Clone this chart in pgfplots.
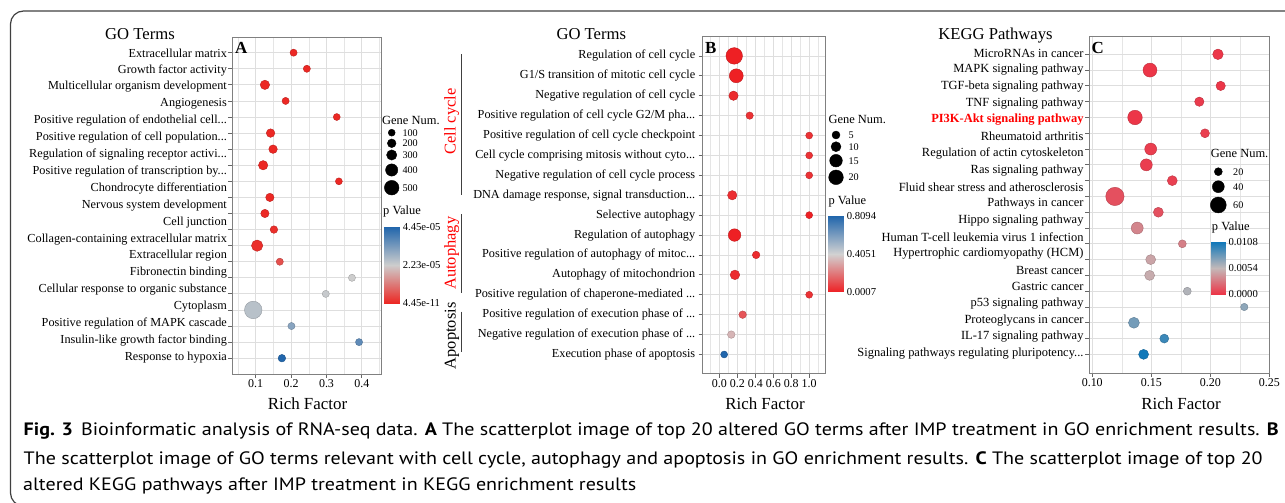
\documentclass[border=0pt]{standalone}
\usepackage{fontspec}
\setmainfont{Liberation Serif}
\newfontfamily\capfont[FakeStretch=1.118]{PT Sans}
\usepackage{pgfplots}
\pgfplotsset{compat=1.18}
\newcommand\fsz[1]{\fontsize{#1}{#1}\selectfont}
\newcommand\el{.\kern0pt.\kern0pt.}
\pgfplotsset{
 colormap={cmA}{rgb255=(236,40,36) rgb255=(205,205,205) rgb255=(33,102,172)},
 colormap={cmB}{rgb255=(238,32,36) rgb255=(210,210,210) rgb255=(33,102,172)},
 colormap={cmC}{rgb255=(236,54,72) rgb255=(195,185,185) rgb255=(16,120,185)},
 panel/.style={anchor=south west, scale only axis, tick align=outside,
   major tick length=4bp, minor tick length=0pt, xtick pos=bottom, ytick pos=left,
   axis line style={black!50, line width=0.9bp}, tick style={black!60, line width=0.8bp},
   xmajorgrids, xminorgrids, ymajorgrids,
   major grid style={black!13, line width=0.8bp}, minor grid style={black!10, line width=0.5bp},
   point meta min=0, point meta max=1,
   /pgf/number format/assume math mode=true,
   xticklabel style={font=\fsz{12}, yshift=1.5bp},
   yticklabel style={font=\fsz{12.3}}},
 dots/.style={scatter, only marks, mark=*, scatter src=explicit,
   visualization depends on={\thisrow{r}\as\rad},
   scatter/@pre marker code/.append style={/tikz/mark size=\rad}},
 cbar/.style={anchor=south west, scale only axis, xmin=0, xmax=1, ymin=0, ymax=1,
   point meta min=0, point meta max=1, axis line style={draw=none}, xtick=\empty,
   ytick={0,0.5,1}, yticklabel pos=right, ytick pos=both, tick align=inside,
   major tick length=3bp, tick style={white, line width=0.8bp},
   yticklabel style={font=\fsz{10.7}, xshift=0bp}},
}
\begin{document}
\begin{tikzpicture}
\path[use as bounding box] (0,0) rectangle (1285bp,503bp);
\draw[black!75, line width=1.2bp, rounded corners=13bp] (10.5bp,-3bp) rectangle (1310bp,492bp);

% ---------- Panel A ----------
\begin{axis}[panel, at={(232bp,129bp)}, width=149bp, height=337bp,
  xmin=0.033, xmax=0.454, ymin=0.018, ymax=20.976, colormap name=cmA,
  xtick={0.1,0.2,0.3,0.4}, minor xtick={0.05,0.15,0.25,0.35,0.45},
  ytick={1,...,20}, yticklabels={},
  extra y ticks={19.963,18.913,17.862,16.812,15.761,14.711,13.660,12.610,11.560,10.509,9.459,8.408,7.358,6.307,5.257,4.207,3.156,2.106,1.055},
  extra y tick labels={Extracellular matrix,Growth factor activity,Multicellular organism development,Angiogenesis,Positive regulation of endothelial cell\el,Positive regulation of cell population\el,Regulation of signaling receptor activi\el,Positive regulation of transcription by\el,Chondrocyte differentiation,Nervous system development,Cell junction,Collagen-containing extracellular matrix,Extracellular region,Fibronectin binding,Cellular response to organic substance,Cytoplasm,Positive regulation of MAPK cascade,Insulin-like growth factor binding,Response to hypoxia},
  extra y tick style={grid=none, major tick length=0pt, yticklabel style={xshift=-1.6bp}}]
\addplot[dots] table[x=x, y=y, meta=c] {
x y r c
0.207 20 3.6 0.0
0.2445 19 3.6 0.0
0.126 18 4.7 0.0
0.1845 17 3.6 0.0
0.329 16 3.5 0.0
0.142 15 4.3 0.0
0.149 14 4.3 0.0
0.121 13 4.7 0.0
0.335 12 3.5 0.0
0.140 11 4.2 0.0
0.126 10 4.2 0.0
0.1515 9 3.8 0.02
0.104 8 5.7 0.02
0.168 7 3.6 0.12
0.372 6 3.6 0.5
0.298 5 3.6 0.52
0.093 4 8.8 0.56
0.201 3 3.6 0.7
0.392 2 3.6 0.82
0.174 1 3.8 1.0
};
\end{axis}

% ---------- Panel B ----------
\begin{axis}[panel, at={(702.7bp,129.3bp)}, width=123bp, height=337.7bp,
  xmin=-0.186, xmax=1.184, ymin=0.035, ymax=17.0, colormap name=cmB,
  xtick={0,0.2,0.4,0.6,0.8,1.0}, minor xtick={-0.1,0.1,0.3,0.5,0.7,0.9,1.1},
  xticklabel style={/pgf/number format/.cd, fixed, fixed zerofill, precision=1},
  ytick={1,...,16},
  yticklabels={Execution phase of apoptosis\hspace{6bp},Negative regulation of execution phase of \el,Positive regulation of execution phase of \el,Positive regulation of chaperone-mediated \el,Autophagy of mitochondrion,Positive regulation of autophagy of mitoc\el,Regulation of autophagy,Selective autophagy,{DNA damage response, signal transduction\el},Negative regulation of cell cycle process,Cell cycle comprising mitosis without cyto\el,Positive regulation of cell cycle checkpoint,Positive regulation of cell cycle G2/M pha\el,Negative regulation of cell cycle,G1/S transition of mitotic cell cycle,Regulation of cell cycle}]
\addplot[dots] table[x=x, y=y, meta=c] {
x y r c
0.165 16 8.3 0.0
0.188 15 7.0 0.0
0.157 14 4.7 0.03
0.337 13 3.7 0.05
1.0 12 3.5 0.05
1.0 11 3.5 0.05
1.0 10 3.5 0.05
0.143 9 4.7 0.04
1.0 8 3.5 0.0
0.169 7 6.3 0.0
0.409 6 3.8 0.03
0.173 5 4.8 0.03
1.0 4 3.5 0.05
0.259 3 3.8 0.15
0.132 2 3.8 0.42
0.053 1 3.5 1.0
};
\end{axis}

% ---------- Panel C ----------
\begin{axis}[panel, at={(1089.3bp,130bp)}, width=180bp, height=337bp,
  xmin=0.0975, xmax=0.25, ymin=-0.18, ymax=21.16, colormap name=cmC,
  xtick={0.10,0.15,0.20,0.25}, minor xtick={0.125,0.175,0.225},
  xticklabel style={/pgf/number format/.cd, fixed, fixed zerofill, precision=2},
  yticklabel style={font=\fsz{12.5}},
  ytick={1,...,20}, yticklabels={},
  extra y ticks={20.063,19.007,17.950,16.894,15.838,14.781,13.725,12.668,11.612,10.556,9.499,8.443,7.386,6.330,5.274,4.217,3.161,2.104,1.048},
  extra y tick labels={MicroRNAs in cancer,MAPK signaling pathway,TGF-beta signaling pathway,TNF signaling pathway,{\textbf{\textcolor{red}{PI3K-Akt signaling pathway}}},Rheumatoid arthritis,Regulation of actin cytoskeleton,Ras signaling pathway,Fluid shear stress and atherosclerosis,Pathways in cancer,Hippo signaling pathway,Human T-cell leukemia virus 1 infection,Hypertrophic cardiomyopathy (HCM),Breast cancer,Gastric cancer,p53 signaling pathway,Proteoglycans in cancer,IL-17 signaling pathway,Signaling pathways regulating pluripotency\el},
  extra y tick style={grid=none, major tick length=0pt, yticklabel style={xshift=-2.3bp}}]
\addplot[dots] table[x=x, y=y, meta=c] {
x y r c
0.2065 20 5.3 0.0
0.1489 19 7.0 0.0
0.2088 18 4.7 0.0
0.1907 17 4.7 0.02
0.1362 16 7.3 0.0
0.1955 15 4.5 0.03
0.1495 14 6.0 0.03
0.1458 13 6.0 0.03
0.1678 12 5.0 0.04
0.1192 11 9.2 0.1
0.156 10 5.0 0.1
0.1381 9 6.0 0.3
0.1763 8 4.0 0.28
0.1495 7 5.0 0.42
0.1486 6 5.0 0.45
0.1805 5 4.0 0.55
0.2288 4 3.7 0.65
0.1353 3 5.5 0.72
0.161 2 4.5 0.88
0.1435 1 5.0 1.0
};
\end{axis}

% ---------- colour bars ----------
\begin{axis}[cbar, at={(384bp,199.7bp)}, width=15.3bp, height=76.6bp, colormap name=cmA,
  yticklabels={4.45e-11,2.23e-05,4.45e-05}]
\addplot[surf, shader=interp, mesh/cols=2, point meta=y] coordinates {(0,0) (1,0) (0,0.5) (1,0.5) (0,1) (1,1)};
\end{axis}
\begin{axis}[cbar, at={(828.3bp,211.3bp)}, width=15bp, height=75.7bp, colormap name=cmB,
  yticklabels={0.0007,0.4051,0.8094}]
\addplot[surf, shader=interp, mesh/cols=2, point meta=y] coordinates {(0,0) (1,0) (0,0.5) (1,0.5) (0,1) (1,1)};
\end{axis}
\begin{axis}[cbar, at={(1211bp,208.7bp)}, width=14bp, height=52.6bp, colormap name=cmC,
  yticklabels={0.0000,0.0054,0.0108}]
\addplot[surf, shader=interp, mesh/cols=2, point meta=y] coordinates {(0,0) (1,0) (0,0.5) (1,0.5) (0,1) (1,1)};
\end{axis}

% ---------- size legends ----------
\begin{axis}[at={(0bp,0bp)}, anchor=south west, scale only axis, width=1285bp, height=503bp,
  xmin=0, xmax=1285, ymin=0, ymax=503, hide axis, clip=false]
\addplot[scatter/use mapped color={draw=black, fill=black}, dots] table[x=x, y=y, meta=r] {
x y r
391.7 370.3 3.5
391.7 359.7 4.35
391.7 348.0 5.15
391.7 333.0 6.15
391.7 315.3 7.35
836 368.0 4.0
836 356.3 5.0
836 342.3 6.35
836 325.7 7.35
1218.3 331.3 4.0
1218.3 316.3 6.0
1218.3 298.0 8.0
};
\end{axis}

% ---------- texts ----------
\begin{scope}[every node/.style={inner sep=0pt}]
\node[anchor=base] at (140bp,463bp) {\fsz{16.7}GO Terms};
\node[anchor=base] at (591.3bp,463bp) {\fsz{16.7}GO Terms};
\node[anchor=base] at (995.5bp,463bp) {\fsz{16.7}KEGG Pathways};
\node[anchor=base west] at (235bp,449bp) {\fsz{17}\textbf{A}};
\node[anchor=base west] at (705bp,449.5bp) {\fsz{17}\textbf{B}};
\node[anchor=base west] at (1091.5bp,449.5bp) {\fsz{17}\textbf{C}};
\node[anchor=base] at (307.5bp,93.7bp) {\fsz{17}Rich Factor};
\node[anchor=base] at (765bp,93.7bp) {\fsz{17}Rich Factor};
\node[anchor=base] at (1181bp,93.7bp) {\fsz{17}Rich Factor};
% legend A
\node[anchor=base west] at (382bp,378.8bp) {\fsz{12.5}Gene Num.};
\node[anchor=base west] at (402.3bp,366.9bp) {\fsz{10.2}100};
\node[anchor=base west] at (402.3bp,356.3bp) {\fsz{10.2}200};
\node[anchor=base west] at (402.3bp,344.6bp) {\fsz{10.2}300};
\node[anchor=base west] at (402.3bp,329.6bp) {\fsz{10.2}400};
\node[anchor=base west] at (402.3bp,311.9bp) {\fsz{10.2}500};
\node[anchor=base west] at (383bp,288.8bp) {\fsz{12.5}p Value};
% legend B
\node[anchor=base west] at (828.3bp,379.3bp) {\fsz{12.5}Gene Num.};
\node[anchor=base west] at (848.3bp,364.6bp) {\fsz{10.2}5};
\node[anchor=base west] at (848.3bp,352.9bp) {\fsz{10.2}10};
\node[anchor=base west] at (848.3bp,338.9bp) {\fsz{10.2}15};
\node[anchor=base west] at (848.3bp,322.3bp) {\fsz{10.2}20};
\node[anchor=base west] at (828.3bp,298.8bp) {\fsz{12.5}p Value};
% legend C
\node[anchor=base west] at (1210.7bp,345.5bp) {\fsz{12.5}Gene Num.};
\node[anchor=base west] at (1233bp,327.9bp) {\fsz{10.2}20};
\node[anchor=base west] at (1233bp,312.9bp) {\fsz{10.2}40};
\node[anchor=base west] at (1233bp,294.6bp) {\fsz{10.2}60};
\node[anchor=base west] at (1211.7bp,272.8bp) {\fsz{12.5}p Value};
% group brackets in B
\node[rotate=90, anchor=base, text=red] at (455.5bp,381.3bp) {\fsz{16.5}Cell cycle};
\node[rotate=90, anchor=base, text=red] at (455.5bp,249.7bp) {\fsz{16.5}Autophagy};
\node[rotate=90, anchor=base] at (455.5bp,167.2bp) {\fsz{16.5}Apoptosis};
% caption
\node[anchor=base west] at (23.5bp,67bp) {\capfont\fsz{18}\textbf{Fig. 3}\hspace{0.45em}Bioinformatic analysis of RNA-seq data. \textbf{A} The scatterplot image of top 20 altered GO terms after IMP treatment in GO enrichment results. \textbf{B}};
\node[anchor=base west] at (23.5bp,38.7bp) {\capfont\fsz{18}The scatterplot image of GO terms relevant with cell cycle, autophagy and apoptosis in GO enrichment results. \textbf{C} The scatterplot image of top 20};
\node[anchor=base west] at (23bp,12.3bp) {\capfont\fsz{18}altered KEGG pathways after IMP treatment in KEGG enrichment results};
\end{scope}
\draw[black!75, line width=1.1bp] (461.7bp,448.7bp) -- (461.7bp,308bp);
\draw[black!75, line width=1.1bp] (461.7bp,288.7bp) -- (461.7bp,209.7bp);
\draw[black!75, line width=1.1bp] (461.7bp,191.3bp) -- (461.7bp,151.3bp);
\end{tikzpicture}
\end{document}
